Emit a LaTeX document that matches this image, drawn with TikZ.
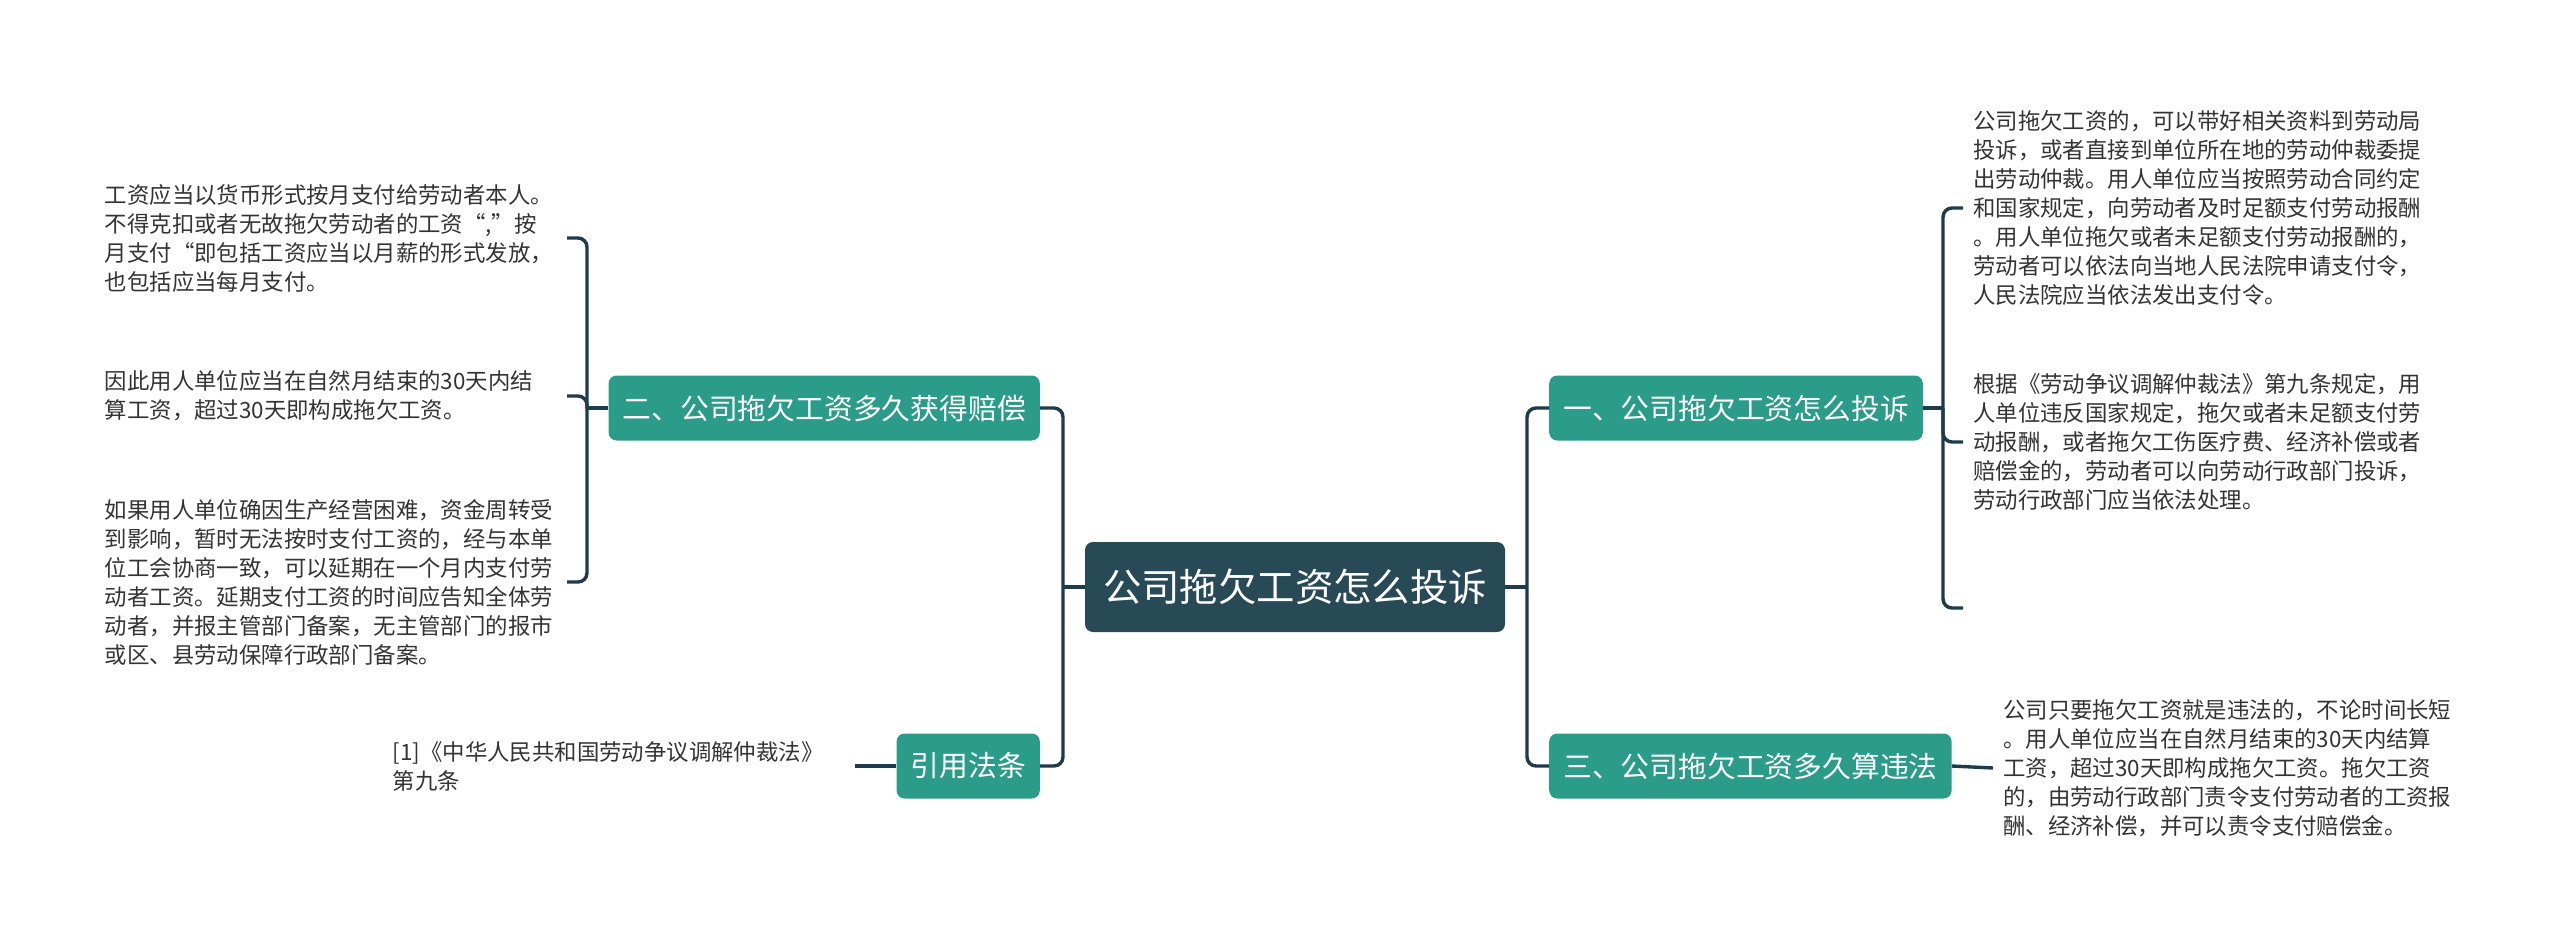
\documentclass[tikz,border=0pt]{standalone}
\usepackage{fontspec}
\setmainfont{Noto Sans CJK SC}
\usetikzlibrary{positioning}
\definecolor{trunk}{HTML}{284A57}
\definecolor{teal}{HTML}{2A9C89}
\definecolor{wire}{HTML}{1F3B4C}
\definecolor{ink}{HTML}{333333}
\tikzset{
  root/.style={fill=trunk,rounded corners=8pt,text=white,minimum height=90pt,inner xsep=18pt,
    font=\fontsize{38.4}{44}\selectfont},
  topic/.style={fill=teal,rounded corners=8pt,text=white,minimum height=65pt,inner xsep=14pt,
    font=\fontsize{28.8}{32}\selectfont},
  leaf/.style={text=ink,text width=452pt,align=left,inner xsep=10pt,
    font=\fontsize{22.4}{29}\selectfont},
  conn/.style={draw=wire,line width=3.4pt,rounded corners=9pt}
}
\begin{document}
\begin{tikzpicture}[x=1pt,y=-1pt]%complaint about unpaid wages
\useasboundingbox (0,0) rectangle (2560,945);
\node[root] (c) at (1295,587){公司拖欠工资怎么投诉};
\node[topic,anchor=east] (b2) at (1040,408){二、公司拖欠工资多久获得赔偿};
\node[topic,anchor=east] (bref) at (1040,766){引用法条};
\node[topic,anchor=west] (b1) at (1549,408){一、公司拖欠工资怎么投诉};
\node[topic,anchor=west] (b3) at (1549,766){三、公司拖欠工资多久算违法};
% left leaves
\node[leaf,anchor=east] (la) at (567,238){工资应当以货币形式按月支付给劳动者本人。\\不得克扣或者无故拖欠劳动者的工资“,”按\\月支付“即包括工资应当以月薪的形式发放，\\也包括应当每月支付。};
\node[leaf,anchor=east] (lb) at (567,396){因此用人单位应当在自然月结束的30天内结\\算工资，超过30天即构成拖欠工资。};
\node[leaf,anchor=east] (lc) at (567,582){如果用人单位确因生产经营困难，资金周转受\\到影响，暂时无法按时支付工资的，经与本单\\位工会协商一致，可以延期在一个月内支付劳\\动者工资。延期支付工资的时间应告知全体劳\\动者，并报主管部门备案，无主管部门的报市\\或区、县劳动保障行政部门备案。};
\node[leaf,anchor=east] (lref) at (855,766){[1]《中华人民共和国劳动争议调解仲裁法》\\第九条};
% right leaves
\node[leaf,anchor=west] (ra) at (1963,208){公司拖欠工资的，可以带好相关资料到劳动局\\投诉，或者直接到单位所在地的劳动仲裁委提\\出劳动仲裁。用人单位应当按照劳动合同约定\\和国家规定，向劳动者及时足额支付劳动报酬\\。用人单位拖欠或者未足额支付劳动报酬的，\\劳动者可以依法向当地人民法院申请支付令，\\人民法院应当依法发出支付令。};
\node[leaf,anchor=west] (rb) at (1963,442){根据《劳动争议调解仲裁法》第九条规定，用\\人单位违反国家规定，拖欠或者未足额支付劳\\动报酬，或者拖欠工伤医疗费、经济补偿或者\\赔偿金的，劳动者可以向劳动行政部门投诉，\\劳动行政部门应当依法处理。};
\node[leaf,anchor=west] (rc) at (1993,768){公司只要拖欠工资就是违法的，不论时间长短\\。用人单位应当在自然月结束的30天内结算\\工资，超过30天即构成拖欠工资。拖欠工资\\的，由劳动行政部门责令支付劳动者的工资报\\酬、经济补偿，并可以责令支付赔偿金。};
% joints
\coordinate (tl) at (1063,587);
\coordinate (tr) at (1527,587);
\coordinate (jl) at (587,408);
\coordinate (jr) at (1943,408);
\coordinate (re) at (1963,608);
% trunk
\draw[conn] (c.west) -- (tl);
\draw[conn] (b2.east) -| (tl);
\draw[conn] (bref.east) -| (tl);
\draw[conn] (c.east) -- (tr);
\draw[conn] (b1.west) -| (tr);
\draw[conn] (b3.west) -| (tr);
% brackets
\draw[conn] (b2.west) -- (jl);
\draw[conn] (jl) |- (la.east);
\draw[conn] (jl) |- (lb.east);
\draw[conn] (jl) |- (lc.east);
\draw[conn] (bref.west) -- (lref.east);
\draw[conn] (b1.east) -- (jr);
\draw[conn] (jr) |- (ra.west);
\draw[conn] (jr) |- (rb.west);
\draw[conn] (jr) |- (re);
\draw[conn] (b3.east) -- (rc.west);
\end{tikzpicture}
\end{document}
